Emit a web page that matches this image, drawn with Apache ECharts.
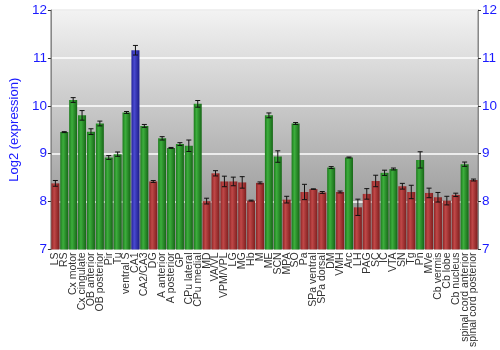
<!DOCTYPE html>
<html><head><meta charset="utf-8">
<script src="https://cdn.jsdelivr.net/npm/echarts@6/dist/echarts.min.js"></script>
<style>html,body{margin:0;padding:0;background:#fff}#c{width:500px;height:350px}</style>
</head><body><div id="c"></div>
<script>
const categories = ["LS","RS","Cx motor","Cx cingulate","OB anterior","OB posterior","Pir","Tu","ventral S","CA1","CA2/CA3","DG","A anterior","A posterior","GP","CPu lateral","CPu medial","MD","VA/VL","VPM/VPL","LG","MG","Hb","M","ME","SCN","MPA","SO","Pa","SPa ventral","SPa dorsal","DM","VMH","Arc","LH","PAG","SC","IC","VTA","SN","Tg","Pn","MVe","Cb vermis","Cb lobe","Cb nucleus","spinal cord anterior","spinal cord posterior"];
const values = [8.38,9.45,10.12,9.80,9.46,9.63,8.92,8.99,9.86,11.16,9.58,8.42,9.32,9.12,9.20,9.165,10.04,8.01,8.59,8.42,8.42,8.40,8.02,8.39,9.80,8.94,8.04,9.63,8.20,8.26,8.19,8.71,8.20,8.92,7.88,8.16,8.43,8.60,8.68,8.32,8.20,8.87,8.18,8.09,8.02,8.14,8.78,8.45];
const errors = [0.06,0.01,0.05,0.10,0.06,0.05,0.04,0.045,0.02,0.10,0.03,0.02,0.035,0.01,0.03,0.12,0.07,0.06,0.055,0.11,0.09,0.12,0.01,0.02,0.05,0.12,0.07,0.02,0.16,0.005,0.02,0.02,0.02,0.01,0.17,0.11,0.12,0.055,0.02,0.06,0.14,0.17,0.10,0.10,0.09,0.035,0.045,0.02];
const groups = ["r","g","g","g","g","g","g","g","g","b","g","r","g","g","g","g","g","r","r","r","r","r","r","r","g","g","r","g","r","r","r","g","r","g","r","r","r","g","g","r","r","g","r","r","r","r","g","r"];
const yTicks = [7,8,9,10,11,12];

const chart = echarts.init(document.getElementById('c'), null, {renderer:'canvas'});
function grad(a,b,c){return new echarts.graphic.LinearGradient(0,0,1,0,[{offset:0,color:a},{offset:0.35,color:b},{offset:1,color:c}]);}
const palette = {
  r: grad('#8e2424','#c04848','#7f1e1e'),
  g: grad('#1c7a1c','#3dae3d','#166616'),
  b: grad('#22229a','#4a4ad0','#1c1c88')
};
const barData = values.map((v,i)=>({value:v,itemStyle:{color:palette[groups[i]]}}));
const errData = values.map((v,i)=>[i, v-errors[i], v+errors[i]]);
const blue = '#1a1aff';
const yBase = {
  type:'value', min:yTicks[0], max:yTicks[yTicks.length-1], interval:1,
  axisLine:{show:true,lineStyle:{color:'#888'}},
  axisTick:{show:true,length:3,lineStyle:{color:'#333'}},
  axisLabel:{color:blue,fontSize:13.5,fontFamily:'Liberation Sans',margin:4},
  splitLine:{show:false}
};
chart.setOption({
  animation:false,
  grid:{left:35,right:20,top:10,bottom:99,show:true,borderWidth:1,borderColor:'#888',
    backgroundColor:new echarts.graphic.LinearGradient(0,0,0,1,[{offset:0,color:'#f3f3f3'},{offset:1,color:'#8a8a8a'}])},
  xAxis:{type:'category',data:categories,
    axisLine:{show:false},axisTick:{show:false},
    axisLabel:{rotate:90,interval:0,fontSize:10.5,color:'#333',fontFamily:'Liberation Sans',margin:3}},
  yAxis:[
    Object.assign({},yBase,{position:'left',name:'Log2 (expression)',nameLocation:'middle',nameGap:25,nameRotate:90,
      nameTextStyle:{color:blue,fontSize:13,fontFamily:'Liberation Sans'},
      splitLine:{show:true,lineStyle:{color:'#ffffff',width:1.5}}}),
    Object.assign({},yBase,{position:'right'})
  ],
  series:[
    {type:'bar',data:barData,barCategoryGap:'10%',yAxisIndex:0},
    {type:'custom',data:errData,yAxisIndex:0,z:5,
     renderItem:function(params,api){
       const x=api.value(0);
       const lo=api.coord([x,api.value(1)]);
       const hi=api.coord([x,api.value(2)]);
       const w=2.5;
       const st={stroke:'#111',lineWidth:1};
       return {type:'group',children:[
         {type:'line',shape:{x1:lo[0],y1:lo[1],x2:hi[0],y2:hi[1]},style:st},
         {type:'line',shape:{x1:lo[0]-w,y1:lo[1],x2:lo[0]+w,y2:lo[1]},style:st},
         {type:'line',shape:{x1:hi[0]-w,y1:hi[1],x2:hi[0]+w,y2:hi[1]},style:st}
       ]};
     }}
  ]
});
</script></body></html>
